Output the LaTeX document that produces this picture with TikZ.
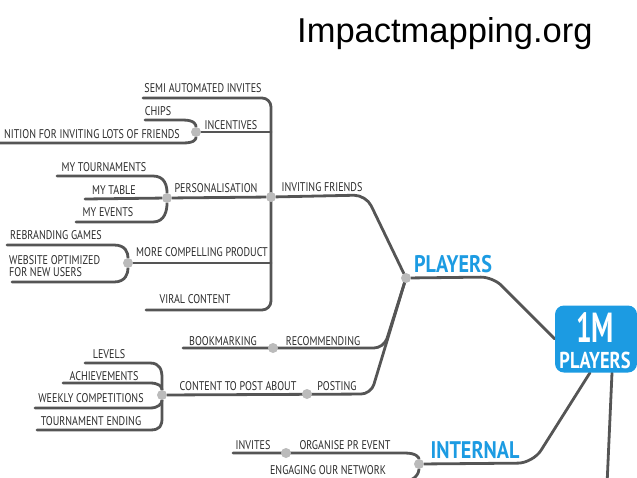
\documentclass[tikz,border=0pt]{standalone}
\usepackage{fontspec}
\setmainfont{Liberation Sans}
\newfontfamily\hand[FakeStretch=0.8]{PT Sans}
\newfontfamily\handb[FakeStretch=0.84]{PT Sans Bold}
\newfontfamily\handroot[FakeStretch=0.8]{PT Sans Bold}
\newfontfamily\handone[FakeStretch=0.66]{PT Sans Bold}
\usetikzlibrary{backgrounds}
\definecolor{lnc}{HTML}{555555}
\definecolor{blu}{HTML}{1C9BE2}
\definecolor{dotc}{HTML}{BBBBBB}
\definecolor{txt}{HTML}{2B2B2B}
\begin{document}
\begin{tikzpicture}[x=1pt,y=-1pt,
  ln/.style={draw=lnc,line width=2.8pt,line cap=round,line join=round},
  dot/.style={circle,fill=dotc,minimum size=10pt,inner sep=0pt},
  lbl/.style={font=\hand\fontsize{12.6}{12.6}\selectfont,inner sep=0pt,text=txt},
  blbl/.style={font=\handb\fontsize{24}{24}\selectfont,text=blu,inner sep=0pt},
]
\useasboundingbox (0,0) rectangle (637,477);

% title
\node[anchor=base west,font=\fontsize{34.5}{40}\selectfont,inner sep=0pt] (title) at (297,42) {Impactmapping.org};

% dots
\node[dot] (trunkdot) at (271,197) {};
\node[dot] (incdot) at (196,132) {};
\node[dot] (persdot) at (167,198) {};
\node[dot] (mcpdot) at (128,263) {};
\node[dot] (playdot) at (406,278) {};
\node[dot] (bookdot) at (273,348) {};
\node[dot] (postdot) at (307,394) {};
\node[dot] (contdot) at (162,395) {};
\node[dot] (invdot) at (286,453) {};
\node[dot] (intdot) at (419,464) {};

% root
\node[fill=blu,rounded corners=9pt,minimum width=82pt,minimum height=67pt,inner sep=0pt] (root) at (596,339) {};
\node[text=white,inner sep=0pt,align=center,anchor=north,font=\fontsize{12}{12}\selectfont] (rootlbl) at (595,312)
  {{\handone\fontsize{42}{42}\selectfont 1M}\\[9pt]{\handroot\fontsize{23}{23}\selectfont PLAYERS}};

% free line ends
\coordinate (semiL) at (143,98);
\coordinate (viralL) at (146,310);
\coordinate (chipsL) at (145,120);
\coordinate (recogL) at (-5,143);
\coordinate (tournL) at (57,176);
\coordinate (tableL) at (85,199);
\coordinate (eventsL) at (76,222);
\coordinate (rebL) at (7,245);
\coordinate (webL) at (12,282);
\coordinate (bookL) at (183,348);
\coordinate (levL) at (85,363);
\coordinate (achL) at (63,383);
\coordinate (weekL) at (35,408);
\coordinate (tourL) at (37,430);
\coordinate (invL) at (233,453);
\coordinate (engL) at (255,481);
\coordinate (downE) at (607,485);

\begin{pgfonlayer}{background}
% trunk
\draw[ln,rounded corners=9pt] (semiL) -- (semiL -| trunkdot) -- (viralL -| trunkdot) -- (viralL);
% incentives
\draw[ln] (incdot) -- (incdot -| trunkdot);
\draw[ln] (chipsL) -- (183,120) .. controls (195,120) and (196,125) .. (incdot);
\draw[ln] (incdot) .. controls (196,139) and (195,143) .. (183,143) -- (recogL);
% personalisation
\draw[ln] (persdot) -- (trunkdot);
\draw[ln] (tournL) -- (153,176) .. controls (165,176) and (167,186) .. (persdot);
\draw[ln] (tableL) -- (persdot);
\draw[ln] (persdot) .. controls (167,210) and (165,222) .. (153,222) -- (eventsL);
% more compelling product
\draw[ln] (mcpdot) -- (mcpdot -| trunkdot);
\draw[ln] (rebL) -- (114,245) .. controls (126,245) and (128,253) .. (mcpdot);
\draw[ln] (mcpdot) .. controls (128,273) and (126,282) .. (114,282) -- (webL);
% players
\draw[ln,rounded corners=12pt] (trunkdot) -- (366,195) -- (playdot);
\draw[ln,rounded corners=12pt] (playdot) -- (493,277) -- (root.west);
\draw[ln,rounded corners=10pt] (playdot) -- (384,348) -- (bookL);
\draw[ln,rounded corners=10pt] (playdot) -- (371,394) -- (contdot);
% content to post about
\draw[ln] (levL) -- (150,363) .. controls (160,363) and (162,370) .. (162,378) -- (contdot);
\draw[ln] (achL) -- (150,383) .. controls (158,383) and (162,386) .. (contdot);
\draw[ln] (weekL) -- (150,408) .. controls (158,408) and (162,404) .. (contdot);
\draw[ln] (contdot) -- (162,418) .. controls (162,426) and (160,430) .. (150,430) -- (tourL);
% root downwards
\draw[ln,rounded corners=15pt] ([xshift=-6pt]root.south) -- (533,463) -- (intdot);
\draw[ln] ([xshift=16pt]root.south) -- (downE);
% internal
\draw[ln] (invL) -- (405,453) .. controls (417,453) and (419,458) .. (intdot);
\draw[ln] (intdot) .. controls (419,472) and (416,481) .. (404,481) -- (engL);
\end{pgfonlayer}

% labels
\node[lbl] (semi) at (203,88) {SEMI AUTOMATED INVITES};
\node[lbl] (chips) at (158,111) {CHIPS};
\node[lbl] (incent) at (231,125) {INCENTIVES};
\node[lbl,anchor=east] (recog) at (180,134) {NITION FOR INVITING LOTS OF FRIENDS};
\node[lbl] (mytourn) at (104,167) {MY TOURNAMENTS};
\node[lbl] (pers) at (216,188) {PERSONALISATION};
\node[lbl] (mytable) at (114,190) {MY TABLE};
\node[lbl] (myevents) at (108,212) {MY EVENTS};
\node[lbl] (invfr) at (322,187) {INVITING FRIENDS};
\node[lbl] (rebrand) at (56,235) {REBRANDING GAMES};
\node[lbl,align=left,anchor=west] (website) at (9,266) {WEBSITE OPTIMIZED\\FOR NEW USERS};
\node[lbl] (mcp) at (202,252) {MORE COMPELLING PRODUCT};
\node[lbl] (viral) at (195,299) {VIRAL CONTENT};
\node[lbl] (bookm) at (223,341) {BOOKMARKING};
\node[lbl] (recomm) at (323,341) {RECOMMENDING};
\node[lbl] (levels) at (109,354) {LEVELS};
\node[lbl] (achiev) at (104,376) {ACHIEVEMENTS};
\node[lbl] (weekly) at (91,398) {WEEKLY COMPETITIONS};
\node[lbl] (tourend) at (91,421) {TOURNAMENT ENDING};
\node[lbl] (content) at (238,386) {CONTENT TO POST ABOUT};
\node[lbl] (posting) at (337,386) {POSTING};
\node[lbl] (invites) at (253,445) {INVITES};
\node[lbl] (organise) at (345,445) {ORGANISE PR EVENT};
\node[lbl] (engaging) at (328,470) {ENGAGING OUR NETWORK};
\node[blbl] (players) at (453,264) {PLAYERS};
\node[blbl] (internal) at (475,450) {INTERNAL};
\end{tikzpicture}
\end{document}
